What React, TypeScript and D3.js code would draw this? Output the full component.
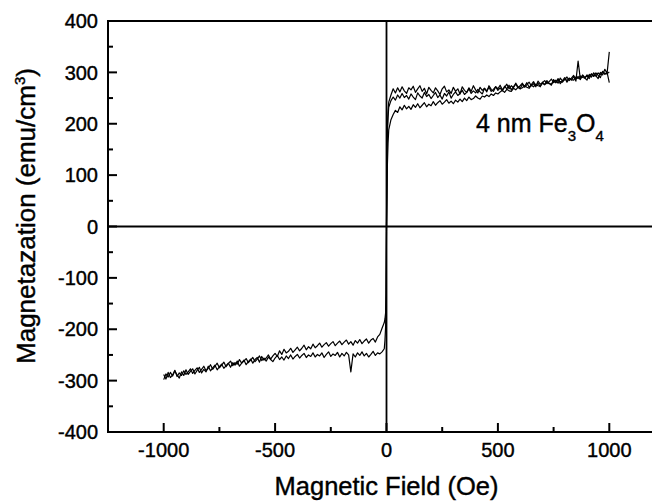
import React from 'react';
import * as d3 from 'd3';

// Magnetic field grids (Oe)
const fieldPos = [
  0, 2, 4, 7,
  10, 20, 30, 40, 50, 60, 70, 80, 90, 100,
  110, 120, 130, 140, 150, 160, 170, 180, 190, 200,
  210, 220, 230, 240, 250, 260, 270, 280, 290, 300,
  310, 320, 330, 340, 350, 360, 370, 380, 390, 400,
  410, 420, 430, 440, 450, 460, 470, 480, 490, 500,
  510, 520, 530, 540, 550, 560, 570, 580, 590, 600,
  610, 620, 630, 640, 650, 660, 670, 680, 690, 700,
  710, 720, 730, 740, 750, 760, 770, 780, 790, 800,
  810, 820, 830, 840, 850, 860, 870, 880, 890, 900,
  910, 920, 930, 940, 950, 960, 970, 980, 990, 1000,
];
const fieldNeg = [
  -1000, -990, -980, -970, -960, -950, -940, -930, -920, -910,
  -900, -890, -880, -870, -860, -850, -840, -830, -820, -810,
  -800, -790, -780, -770, -760, -750, -740, -730, -720, -710,
  -700, -690, -680, -670, -660, -650, -640, -630, -620, -610,
  -600, -590, -580, -570, -560, -550, -540, -530, -520, -510,
  -500, -490, -480, -470, -460, -450, -440, -430, -420, -410,
  -400, -390, -380, -370, -360, -350, -340, -330, -320, -310,
  -300, -290, -280, -270, -260, -250, -240, -230, -220, -210,
  -200, -190, -180, -170, -160, -150, -140, -130, -120, -110,
  -100, -90, -80, -70, -60, -50, -40, -30, -20, -10,
  -7, -4, -2, 0,
];

// Magnetization (emu/cm3), positive-field branches
const upperPos = [
  10, 140, 195, 225,
  242, 256, 268, 260, 270, 262, 272, 264, 259, 270,
  266, 273, 261, 268, 274, 263, 269, 258, 271, 265,
  260, 270, 264, 257, 268, 273, 262, 266, 259, 271,
  263, 268, 258, 272, 265, 261, 270, 263, 274, 266,
  260, 271, 265, 269, 262, 274, 267, 263, 272, 268,
  275, 266, 271, 277, 268, 274, 270, 279, 272, 268,
  277, 273, 280, 271, 276, 282, 274, 279, 272, 281,
  276, 284, 279, 275, 286, 280, 288, 278, 284, 290,
  281, 288, 285, 292, 283, 322, 287, 294, 289, 285,
  296, 291, 299, 293, 288, 300, 295, 306, 298, 340,
];
const middlePos = [
  -10, 130, 180, 212,
  232, 245, 252, 246, 256, 250, 259, 251, 255, 248,
  258, 252, 247, 260, 254, 250, 261, 253, 257, 249,
  255, 261, 251, 256, 248, 259, 254, 262, 250, 257,
  262, 255, 259, 265, 257, 261, 268, 259, 264, 260,
  267, 262, 258, 269, 264, 271, 263, 267, 272, 265,
  270, 264, 273, 268, 275, 266, 272, 277, 270, 274,
  279, 271, 276, 281, 274, 278, 272, 283, 277, 280,
  284, 278, 282, 287, 280, 285, 279, 289, 283, 286,
  291, 284, 289, 294, 287, 292, 286, 295, 290, 293,
  288, 297, 292, 299, 294, 290, 302, 296, 300, 280,
];
const lowerPos = [
  0, 60, 120, 162,
  188, 208, 218, 226, 222, 233, 227, 236, 229, 234,
  228, 237, 232, 239, 231, 236, 241, 233, 238, 235,
  243, 236, 241, 245, 238, 242, 247, 240, 244, 239,
  246, 242, 248, 243, 250, 245, 252, 247, 249, 254,
  250, 248, 254, 252, 256, 253, 258, 255, 260, 258,
  262, 265, 261, 267, 264, 263, 269, 266, 271, 268,
  270, 274, 271, 269, 275, 272, 277, 274, 273, 279,
  276, 281, 278, 277, 283, 280, 285, 282, 281, 287,
  284, 289, 286, 285, 291, 288, 293, 290, 289, 295,
  292, 297, 294, 293, 299, 296, 301, 298, 297, 301,
];

// Magnetization (emu/cm3), negative-field branches
const upperNeg = [
  -298, -287, -293, -284, -291, -281, -289, -295, -283, -290,
  -279, -288, -282, -277, -287, -280, -274, -285, -278, -283,
  -272, -281, -275, -270, -279, -273, -268, -276, -271, -266,
  -274, -265, -270, -262, -272, -266, -260, -269, -263, -258,
  -266, -259, -255, -264, -253, -260, -256, -250, -258, -252,
  -247, -253, -242, -249, -239, -246, -243, -237, -245, -240,
  -235, -242, -237, -231, -240, -234, -238, -229, -236, -232,
  -227, -235, -230, -226, -233, -228, -224, -232, -227, -223,
  -230, -225, -221, -229, -224, -231, -222, -227, -220, -228,
  -223, -219, -227, -221, -218, -225, -215, -210, -198, -187,
  -180, -168, -130, 10,
];
const lowerNeg = [
  -288, -297, -284, -294, -289, -280, -292, -285, -290, -281,
  -288, -283, -277, -286, -280, -275, -284, -278, -272, -281,
  -276, -269, -278, -272, -266, -275, -270, -264, -273, -267,
  -262, -271, -265, -268, -259, -266, -262, -257, -265, -260,
  -255, -263, -258, -252, -261, -256, -262, -254, -259, -263,
  -256, -251, -259, -254, -260, -252, -257, -250, -258, -253,
  -249, -256, -251, -247, -255, -250, -253, -246, -254, -249,
  -252, -246, -255, -249, -244, -253, -248, -251, -245, -254,
  -247, -252, -245, -250, -283, -248, -254, -246, -251, -244,
  -252, -247, -254, -249, -243, -251, -246, -248, -244, -238,
  -222, -195, -150, -10,
];

const xMajorTicks = [-1000, -500, 0, 500, 1000];
const xMinorTicks = [-750, -250, 250, 750];
const yMajorTicks = [-400, -300, -200, -100, 0, 100, 200, 300, 400];
const yMinorTicks = [-350, -250, -150, -50, 50, 150, 250, 350];

const FONT = '"Liberation Sans", Arial, sans-serif';

export default function App() {
  const W = 652;
  const H = 502;
  const left = 108;
  const top = 21;
  const bottom = 432;
  const x = d3.scaleLinear().domain([-1250, 1250]).range([left, 665]);
  const y = d3.scaleLinear().domain([-400, 400]).range([bottom, top]);
  const line = d3
    .line<[number, number]>()
    .x((d) => x(d[0]))
    .y((d) => y(d[1]));

  const curves: [number[], number[]][] = [
    [fieldNeg, upperNeg],
    [fieldNeg, lowerNeg],
    [fieldPos, upperPos],
    [fieldPos, middlePos],
    [fieldPos, lowerPos],
  ];

  const txt = { fill: '#000', stroke: '#000', strokeWidth: 0.4 };

  return (
    <svg
      width={W}
      height={H}
      style={{ position: 'absolute', left: 0, top: 0, background: '#fff' }}
      fontFamily={FONT}
    >
      <rect x={0} y={0} width={W} height={H} fill="#fff" />
      {curves.map(([f, m], i) => (
        <path
          key={i}
          d={line(f.map((v, j) => [v, m[j]] as [number, number])) || ''}
          fill="none"
          stroke="#000"
          strokeWidth={1.2}
          strokeLinejoin="round"
        />
      ))}
      <line x1={left} x2={W} y1={top} y2={top} stroke="#000" strokeWidth={2} />
      <line x1={left} x2={W} y1={bottom} y2={bottom} stroke="#000" strokeWidth={2} />
      <line x1={left} x2={left} y1={top - 1} y2={bottom + 1} stroke="#000" strokeWidth={2} />
      <line x1={left} x2={W} y1={y(0)} y2={y(0)} stroke="#000" strokeWidth={2} />
      <line x1={x(0)} x2={x(0)} y1={top} y2={bottom} stroke="#000" strokeWidth={1.8} />
      {yMajorTicks.map((t) => (
        <line key={'ym' + t} x1={left} x2={left + 9} y1={y(t)} y2={y(t)} stroke="#000" strokeWidth={2} />
      ))}
      {yMinorTicks.map((t) => (
        <line key={'yn' + t} x1={left} x2={left + 5} y1={y(t)} y2={y(t)} stroke="#000" strokeWidth={2} />
      ))}
      {yMajorTicks.map((t) => (
        <text key={'yl' + t} x={98} y={y(t) + 7.2} fontSize={20} textAnchor="end" {...txt}>
          {String(t)}
        </text>
      ))}
      {xMajorTicks.map((t) => (
        <line key={'xm' + t} x1={x(t)} x2={x(t)} y1={bottom} y2={bottom - 9} stroke="#000" strokeWidth={2} />
      ))}
      {xMinorTicks.map((t) => (
        <line key={'xn' + t} x1={x(t)} x2={x(t)} y1={bottom} y2={bottom - 5} stroke="#000" strokeWidth={2} />
      ))}
      {xMajorTicks.map((t) => (
        <text key={'xl' + t} x={x(t)} y={457} fontSize={20} textAnchor="middle" {...txt}>
          {String(t)}
        </text>
      ))}
      <text x={x(0)} y={495} fontSize={25.5} textAnchor="middle" {...txt}>
        Magnetic Field (Oe)
      </text>
      <text
        transform={`translate(35,${216}) rotate(-90)`}
        fontSize={26}
        textAnchor="middle"
        {...txt}
      >
        Magnetazation (emu/cm
        <tspan fontSize={15} dy={-10}>3</tspan>
        <tspan dy={10}>)</tspan>
      </text>
      <text x={476} y={132} fontSize={25} {...txt}>
        4 nm Fe
        <tspan fontSize={15} dy={9}>3</tspan>
        <tspan dy={-9}>O</tspan>
        <tspan fontSize={15} dy={9}>4</tspan>
      </text>
    </svg>
  );
}
